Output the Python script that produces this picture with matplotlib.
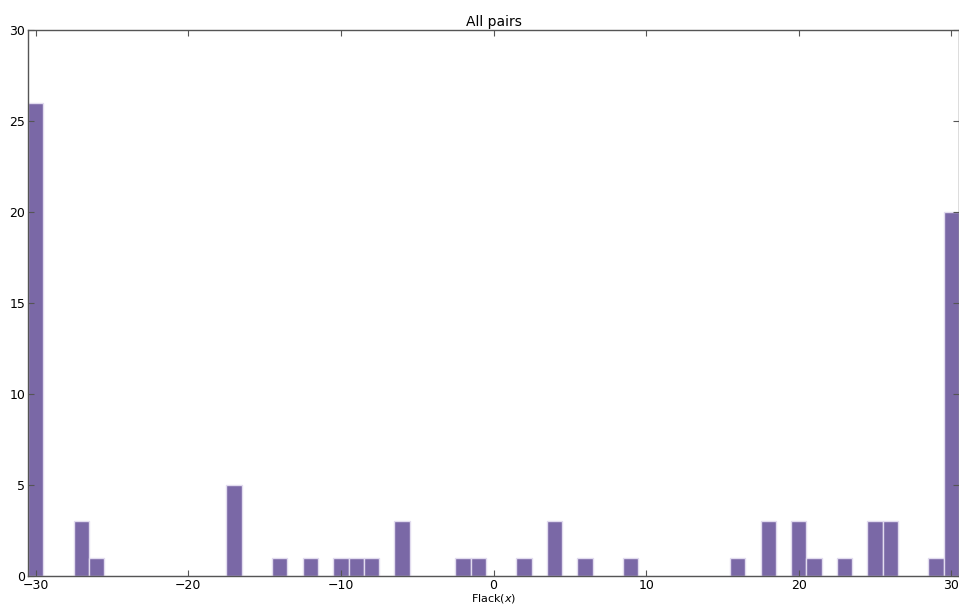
import numpy as np
import matplotlib
matplotlib.use("Agg")
import matplotlib.pyplot as plt

# Flack parameter values (integer bins) and how many pairs fall in each
flack_values = [-30, -27, -26, -17, -14, -12, -10, -9, -8, -6, -2, -1,
                2, 4, 6, 9, 16, 18, 20, 21, 23, 25, 26, 29, 30]
pair_counts = [26, 3, 1, 5, 1, 1, 1, 1, 1, 3, 1, 1,
               1, 3, 1, 1, 1, 3, 3, 1, 1, 3, 3, 1, 20]

x_ticks = [-30, -20, -10, 0, 10, 20, 30]
y_ticks = [0, 5, 10, 15, 20, 25, 30]

plt.rcParams['font.family'] = 'DejaVu Sans'

fig = plt.figure(figsize=(9.59, 6.04), dpi=100)
ax = fig.add_axes([28 / 959, 28 / 604, 931 / 959, 546 / 604])

bins = np.arange(-30.5, 31.5, 1.0)
ax.hist(flack_values, bins=bins, weights=pair_counts,
        color='#7A68A6', edgecolor='#e2dcef', linewidth=1.0)

ax.set_xlim(-30.5, 30.5)
ax.set_ylim(0, 30)
ax.set_xticks(x_ticks)
ax.set_yticks(y_ticks)
ax.tick_params(direction='in', length=4, width=0.8, color='#555555',
               top=True, right=True, labelsize=9, pad=2)
for side in ax.spines.values():
    side.set_color('#555555')
    side.set_linewidth(1.0)

ax.set_title('All pairs', fontsize=10, pad=3)
ax.set_xlabel(r'Flack($x$)', fontsize=8)
ax.xaxis.set_label_coords(0.5, -0.030)

fig.savefig('out.png', dpi=100)
